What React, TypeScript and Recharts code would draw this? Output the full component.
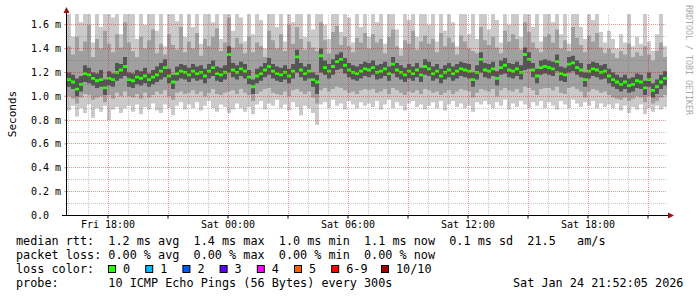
import { ComposedChart, Area, XAxis, YAxis, ReferenceLine } from "recharts";

// 30 hour smokeping view, one column every 12 minutes, starting Fri 15:57
const START_HOUR = 15.95;
const STEP_HOURS = 0.2;

// median rtt (ms)
const median = [
  1.14, 1.12, 1.06, 1.1, 1.19, 1.18, 1.15, 1.13, 1.14, 1.07, 1.15, 1.14, 1.2, 1.22, 1.25,
  1.14, 1.13, 1.16, 1.15, 1.17, 1.14, 1.16, 1.18, 1.21, 1.24, 1.17, 1.12, 1.19, 1.21, 1.2,
  1.18, 1.21, 1.19, 1.2, 1.17, 1.21, 1.24, 1.19, 1.18, 1.2, 1.35, 1.22, 1.2, 1.23, 1.21,
  1.16, 1.08, 1.17, 1.19, 1.22, 1.25, 1.21, 1.19, 1.18, 1.2, 1.17, 1.21, 1.33, 1.22, 1.19,
  1.21, 1.14, 1.12, 1.34, 1.24, 1.21, 1.25, 1.29, 1.31, 1.26, 1.22, 1.2, 1.19, 1.21, 1.23,
  1.22, 1.24, 1.2, 1.21, 1.23, 1.19, 1.27, 1.22, 1.2, 1.18, 1.21, 1.19, 1.22, 1.18, 1.25,
  1.23, 1.19, 1.21, 1.17, 1.2, 1.22, 1.19, 1.21, 1.23, 1.22, 1.21, 1.14, 1.2, 1.31, 1.22,
  1.21, 1.23, 1.15, 1.24, 1.26, 1.22, 1.21, 1.23, 1.2, 1.35, 1.31, 1.22, 1.17, 1.24, 1.25,
  1.24, 1.23, 1.29, 1.19, 1.18, 1.27, 1.28, 1.24, 1.22, 1.14, 1.21, 1.23, 1.22, 1.2, 1.21,
  1.17, 1.14, 1.12, 1.1, 1.12, 1.09, 1.1, 1.13, 1.12, 1.07, 1.14, 1.05, 1.08, 1.12, 1.15,
];

// fastest / slowest ping of each round
const pingMin = [
  0.88, 0.92, 0.83, 0.9, 0.86, 0.93, 0.82, 0.9, 0.87, 0.92, 0.8, 0.89, 0.91, 0.86, 0.9,
  0.92, 0.87, 0.93, 0.85, 0.91, 0.89, 0.94, 0.88, 0.86, 0.93, 0.9, 0.84, 0.92, 0.95, 0.89,
  0.93, 0.9, 0.95, 0.88, 0.92, 0.96, 0.9, 0.87, 0.93, 0.91, 0.86, 0.89, 0.94, 0.9, 0.87,
  0.91, 0.85, 0.93, 0.96, 0.89, 0.94, 0.92, 0.97, 0.9, 0.93, 0.88, 0.95, 0.91, 0.84, 0.92,
  0.9, 0.86, 0.76, 0.93, 0.95, 0.9, 0.97, 0.92, 0.94, 0.89, 0.96, 0.93, 0.9, 0.95, 0.92,
  0.94, 0.91, 0.96, 0.89, 0.93, 0.97, 0.9, 0.95, 0.92, 0.88, 0.94, 0.96, 0.91, 0.93, 0.89,
  0.92, 0.95, 0.9, 0.96, 0.88, 0.93, 0.96, 0.91, 0.94, 0.9, 0.92, 0.87, 0.95, 0.93, 0.96,
  0.93, 0.9, 0.95, 0.92, 0.97, 0.89, 0.94, 0.91, 0.96, 0.93, 0.9, 0.95, 0.92, 0.96, 0.9,
  0.95, 0.92, 0.89, 0.96, 0.93, 0.9, 0.97, 0.94, 0.91, 0.95, 0.92, 0.96, 0.9, 0.94, 0.91,
  0.93, 0.9, 0.94, 0.88, 0.92, 0.86, 0.91, 0.89, 0.93, 0.85, 0.9, 0.87, 0.92, 0.89, 0.91,
];
const pingMax = [
  1.75, 1.5, 1.75, 1.62, 1.75, 1.75, 1.45, 1.75, 1.58, 1.75, 1.75, 1.66, 1.75, 1.52, 1.75,
  1.75, 1.75, 1.48, 1.75, 1.6, 1.75, 1.75, 1.55, 1.75, 1.42, 1.75, 1.75, 1.63, 1.75, 1.5,
  1.75, 1.58, 1.75, 1.44, 1.75, 1.75, 1.62, 1.75, 1.48, 1.75, 1.75, 1.55, 1.75, 1.66, 1.46,
  1.75, 1.52, 1.75, 1.64, 1.4, 1.75, 1.75, 1.58, 1.75, 1.46, 1.75, 1.62, 1.75, 1.75, 1.5,
  1.75, 1.56, 1.75, 1.75, 1.6, 1.48, 1.75, 1.75, 1.54, 1.75, 1.66, 1.45, 1.75, 1.58, 1.75,
  1.5, 1.75, 1.62, 1.75, 1.44, 1.75, 1.75, 1.56, 1.4, 1.75, 1.64, 1.75, 1.5, 1.75, 1.75,
  1.6, 1.75, 1.46, 1.75, 1.55, 1.75, 1.62, 1.42, 1.75, 1.75, 1.52, 1.75, 1.48, 1.75, 1.75,
  1.56, 1.75, 1.64, 1.45, 1.75, 1.6, 1.75, 1.75, 1.5, 1.75, 1.75, 1.58, 1.75, 1.46, 1.75,
  1.75, 1.62, 1.75, 1.52, 1.75, 1.44, 1.75, 1.75, 1.58, 1.48, 1.75, 1.64, 1.75, 1.54, 1.45,
  1.55, 1.48, 1.4, 1.52, 1.45, 1.75, 1.42, 1.5, 1.44, 1.75, 1.46, 1.38, 1.52, 1.75, 1.42,
];

// 2nd / 9th ping
const midLow = [
  1.0, 0.98, 0.94, 0.99, 1.02, 1.01, 0.97, 0.99, 1.0, 0.95, 1.01, 0.98, 1.03, 1.0, 1.04,
  1.0, 0.99, 1.02, 0.98, 1.03, 0.99, 1.01, 1.04, 1.02, 1.05, 1.0, 0.97, 1.03, 1.04, 1.02,
  1.03, 1.05, 1.02, 1.04, 1.0, 1.03, 1.06, 1.02, 1.01, 1.03, 1.04, 1.05, 1.02, 1.06, 1.03,
  1.01, 0.96, 1.02, 1.04, 1.06, 1.07, 1.03, 1.02, 1.01, 1.04, 1.0, 1.05, 1.06, 1.04, 1.02,
  1.04, 0.99, 0.94, 1.05, 1.07, 1.04, 1.06, 1.08, 1.07, 1.05, 1.03, 1.04, 1.02, 1.05, 1.06,
  1.05, 1.06, 1.03, 1.04, 1.06, 1.02, 1.07, 1.05, 1.03, 1.01, 1.04, 1.03, 1.05, 1.02, 1.06,
  1.05, 1.03, 1.04, 1.01, 1.03, 1.05, 1.02, 1.04, 1.06, 1.05, 1.04, 0.99, 1.03, 1.06, 1.05,
  1.04, 1.06, 1.0, 1.05, 1.07, 1.05, 1.04, 1.06, 1.03, 1.08, 1.07, 1.05, 1.01, 1.06, 1.07,
  1.07, 1.05, 1.08, 1.03, 1.02, 1.07, 1.08, 1.06, 1.04, 0.99, 1.04, 1.06, 1.05, 1.03, 1.04,
  1.01, 0.99, 0.98, 0.97, 0.99, 0.96, 0.98, 1.0, 0.99, 0.95, 1.0, 0.94, 0.96, 0.99, 1.01,
];
const midHigh = [
  1.42, 1.35, 1.5, 1.38, 1.46, 1.6, 1.33, 1.48, 1.4, 1.55, 1.44, 1.37, 1.52, 1.41, 1.62,
  1.45, 1.38, 1.33, 1.5, 1.4, 1.47, 1.56, 1.36, 1.44, 1.35, 1.52, 1.43, 1.39, 1.58, 1.37,
  1.46, 1.4, 1.53, 1.34, 1.48, 1.42, 1.5, 1.57, 1.38, 1.45, 1.66, 1.41, 1.49, 1.44, 1.36,
  1.5, 1.37, 1.45, 1.42, 1.33, 1.55, 1.47, 1.4, 1.52, 1.38, 1.6, 1.44, 1.58, 1.48, 1.39,
  1.46, 1.41, 1.38, 1.62, 1.47, 1.36, 1.54, 1.59, 1.43, 1.5, 1.42, 1.37, 1.49, 1.45, 1.53,
  1.4, 1.52, 1.45, 1.48, 1.36, 1.5, 1.56, 1.42, 1.34, 1.47, 1.44, 1.55, 1.39, 1.46, 1.51,
  1.44, 1.48, 1.37, 1.53, 1.42, 1.49, 1.45, 1.35, 1.51, 1.46, 1.4, 1.38, 1.36, 1.58, 1.47,
  1.43, 1.5, 1.41, 1.36, 1.55, 1.46, 1.52, 1.48, 1.39, 1.62, 1.54, 1.45, 1.4, 1.37, 1.5,
  1.52, 1.45, 1.56, 1.4, 1.47, 1.38, 1.58, 1.49, 1.43, 1.37, 1.51, 1.46, 1.53, 1.41, 1.36,
  1.4, 1.36, 1.32, 1.38, 1.35, 1.44, 1.33, 1.37, 1.34, 1.42, 1.35, 1.3, 1.38, 1.45, 1.33,
];

// pings closest to the median
const coreLow = [
  1.08, 1.06, 1.0, 1.04, 1.12, 1.11, 1.09, 1.07, 1.08, 1.01, 1.09, 1.08, 1.13, 1.15, 1.17,
  1.08, 1.07, 1.1, 1.09, 1.11, 1.08, 1.1, 1.12, 1.14, 1.16, 1.11, 1.06, 1.13, 1.15, 1.14,
  1.12, 1.15, 1.13, 1.14, 1.11, 1.15, 1.17, 1.13, 1.12, 1.14, 1.2, 1.16, 1.14, 1.17, 1.15,
  1.1, 1.02, 1.11, 1.13, 1.16, 1.18, 1.15, 1.13, 1.12, 1.14, 1.11, 1.15, 1.2, 1.16, 1.13,
  1.15, 1.08, 1.02, 1.2, 1.18, 1.15, 1.18, 1.22, 1.23, 1.19, 1.16, 1.14, 1.13, 1.15, 1.17,
  1.16, 1.18, 1.14, 1.15, 1.17, 1.13, 1.19, 1.16, 1.14, 1.12, 1.15, 1.13, 1.16, 1.12, 1.18,
  1.17, 1.13, 1.15, 1.11, 1.14, 1.16, 1.13, 1.15, 1.17, 1.16, 1.15, 1.08, 1.14, 1.2, 1.16,
  1.15, 1.17, 1.09, 1.18, 1.19, 1.16, 1.15, 1.17, 1.14, 1.22, 1.23, 1.16, 1.11, 1.18, 1.19,
  1.18, 1.17, 1.21, 1.13, 1.12, 1.2, 1.21, 1.18, 1.16, 1.08, 1.15, 1.17, 1.16, 1.14, 1.15,
  1.11, 1.08, 1.06, 1.04, 1.06, 1.03, 1.04, 1.07, 1.06, 1.01, 1.08, 0.99, 1.02, 1.06, 1.09,
];
const coreHigh = [
  1.2, 1.18, 1.15, 1.17, 1.26, 1.24, 1.2, 1.19, 1.22, 1.14, 1.21, 1.19, 1.28, 1.27, 1.33,
  1.2, 1.19, 1.22, 1.21, 1.24, 1.19, 1.22, 1.25, 1.28, 1.31, 1.23, 1.18, 1.25, 1.27, 1.26,
  1.24, 1.27, 1.25, 1.26, 1.23, 1.27, 1.3, 1.25, 1.24, 1.26, 1.42, 1.28, 1.26, 1.29, 1.27,
  1.22, 1.14, 1.23, 1.25, 1.28, 1.32, 1.27, 1.25, 1.24, 1.26, 1.23, 1.27, 1.39, 1.28, 1.25,
  1.27, 1.2, 1.18, 1.4, 1.3, 1.27, 1.31, 1.35, 1.37, 1.32, 1.28, 1.26, 1.25, 1.27, 1.29,
  1.28, 1.3, 1.26, 1.27, 1.29, 1.25, 1.33, 1.28, 1.26, 1.24, 1.27, 1.25, 1.28, 1.24, 1.31,
  1.29, 1.25, 1.27, 1.23, 1.26, 1.28, 1.25, 1.27, 1.29, 1.28, 1.27, 1.2, 1.26, 1.37, 1.28,
  1.27, 1.29, 1.21, 1.3, 1.32, 1.28, 1.27, 1.29, 1.26, 1.41, 1.37, 1.28, 1.23, 1.3, 1.31,
  1.3, 1.29, 1.35, 1.25, 1.24, 1.33, 1.34, 1.3, 1.28, 1.2, 1.27, 1.29, 1.28, 1.26, 1.27,
  1.23, 1.2, 1.18, 1.16, 1.18, 1.15, 1.16, 1.19, 1.18, 1.13, 1.2, 1.11, 1.14, 1.18, 1.21,
];

const timeTicks = [18, 21, 24, 27, 30, 33, 36, 39, 42, 45];
const timeLabels: Record<number, string> = {
  18: "Fri 18:00",
  24: "Sat 00:00",
  30: "Sat 06:00",
  36: "Sat 12:00",
  42: "Sat 18:00",
};
const yTicks = [0, 0.2, 0.4, 0.6, 0.8, 1.0, 1.2, 1.4, 1.6];
const hourLines = [16, 17, 18, 19, 20, 21, 22, 23, 24, 25, 26, 27, 28, 29, 30, 31, 32, 33, 34, 35, 36, 37, 38, 39, 40, 41, 42, 43, 44, 45];
const valueLines = [0.1, 0.2, 0.3, 0.4, 0.5, 0.6, 0.7, 0.8, 0.9, 1.0, 1.1, 1.2, 1.3, 1.4, 1.5, 1.6];

const legendLines = [
  "median rtt:  1.2 ms avg  1.4 ms max  1.0 ms min  1.1 ms now  0.1 ms sd  21.5   am/s",
  "packet loss: 0.00 % avg  0.00 % max  0.00 % min  0.00 % now",
  "loss color:",
  "probe:       10 ICMP Echo Pings (56 Bytes) every 300s",
];
const stamp = "Sat Jan 24 21:52:05 2026";

const lossColors = [
  { label: "0", color: "#26ff00" },
  { label: "1", color: "#00b8ff" },
  { label: "2", color: "#0059ff" },
  { label: "3", color: "#5e00ff" },
  { label: "4", color: "#ff00ff" },
  { label: "5", color: "#ff5e00" },
  { label: "6-9", color: "#ff0000" },
  { label: "10/10", color: "#a00000" },
];

const MEDIAN_HALF = 0.012; // thickness of the median marker
const MONO = "'DejaVu Sans Mono', monospace";

// svg collapses runs of spaces, so keep them as nbsp
const keepSpaces = (s: string) => s.replace(/ /g, "\u00a0");

const rows = median.map((m, i) => ({
  t: START_HOUR + STEP_HOURS * i,
  outer: [pingMin[i], pingMax[i]],
  mid: [midLow[i], midHigh[i]],
  core: [coreLow[i], coreHigh[i]],
  med: [m - MEDIAN_HALF, m + MEDIAN_HALF],
}));
// close the last step at the right edge
rows.push({ ...rows[rows.length - 1], t: START_HOUR + STEP_HOURS * median.length });

function TimeTick(props: any) {
  const { x, y, payload } = props;
  const label = timeLabels[payload.value];
  if (!label) return <g />;
  return (
    <text x={x} y={y + 6} textAnchor="middle" dominantBaseline="central" fontFamily={MONO} fontSize={10} fill="#000">
      {label}
    </text>
  );
}

function ValueTick(props: any) {
  const { x, y, payload } = props;
  const v = payload.value as number;
  const label = v === 0 ? "0.0" : v.toFixed(1) + " m";
  return (
    <text x={x - 33} y={y} textAnchor="start" dominantBaseline="central" fontFamily={MONO} fontSize={10} fill="#000">
      {keepSpaces(label)}
    </text>
  );
}

export default function App() {
  const majorGrid = "rgba(220,0,0,0.42)";
  const minorGrid = "rgba(110,110,110,0.4)";
  return (
    <div style={{ position: "absolute", left: 0, top: 0, width: 697, height: 297, background: "#fff" }}>
      <ComposedChart width={697} height={297} data={rows} margin={{ top: 14, right: 30, bottom: 51.5, left: 0 }}>
        <XAxis
          dataKey="t"
          type="number"
          domain={[START_HOUR, START_HOUR + 30]}
          ticks={timeTicks}
          height={30}
          axisLine={false}
          tickSize={3}
          tickMargin={0}
          tickLine={{ stroke: "#000" }}
          tick={<TimeTick />}
          interval={0}
        />
        <YAxis
          type="number"
          domain={[0, 1.69]}
          allowDataOverflow
          ticks={yTicks}
          width={67}
          axisLine={false}
          tickSize={3}
          tickMargin={0}
          tickLine={{ stroke: majorGrid }}
          tick={<ValueTick />}
          interval={0}
        />
        <Area dataKey="outer" type="stepAfter" stroke="none" fill="#cacaca" fillOpacity={1} isAnimationActive={false} dot={false} activeDot={false} />
        <Area dataKey="mid" type="stepAfter" stroke="none" fill="#a0a0a0" fillOpacity={1} isAnimationActive={false} dot={false} activeDot={false} />
        <Area dataKey="core" type="stepAfter" stroke="none" fill="#555555" fillOpacity={1} isAnimationActive={false} dot={false} activeDot={false} />
        <Area dataKey="med" type="stepAfter" stroke="none" fill="#26ff00" fillOpacity={1} isAnimationActive={false} dot={false} activeDot={false} />
        {valueLines.map((v) => (
          <ReferenceLine
            key={"y" + v}
            y={v}
            stroke={Math.round(v * 10) % 2 === 0 ? majorGrid : minorGrid}
            strokeDasharray="1 1"
            shapeRendering="crispEdges"
          />
        ))}
        {hourLines.map((h) => (
          <ReferenceLine
            key={"x" + h}
            x={h}
            stroke={h % 3 === 0 ? majorGrid : minorGrid}
            strokeDasharray="1 1"
            shapeRendering="crispEdges"
          />
        ))}
      </ComposedChart>

      <svg width={697} height={297} style={{ position: "absolute", left: 0, top: 0, pointerEvents: "none" }}>
        {/* axes and arrows */}
        <line x1={62} y1={215.5} x2={669} y2={215.5} stroke="#000" />
        <line x1={66.5} y1={216} x2={66.5} y2={11} stroke="#000" />
        <polygon points="668,212.5 674,215.5 668,218.5" fill="#991111" />
        <polygon points="63.5,13 66.5,7 69.5,13" fill="#991111" />

        <text
          transform="translate(12,114) rotate(-90)"
          textAnchor="middle"
          dominantBaseline="central"
          fontFamily={MONO}
          fontSize={11}
          fill="#000"
        >
          Seconds
        </text>
        <text
          transform="translate(689,60) rotate(90)"
          textAnchor="middle"
          dominantBaseline="central"
          fontFamily={MONO}
          fontSize={8.3}
          fill="#aaaaaa"
        >
          {keepSpaces("RRDTOOL / TOBI OETIKER")}
        </text>

        <g fontFamily={MONO} fontSize={11.8} fill="#000">
          {legendLines.map((line, i) => (
            <text key={i} x={16} y={245 + i * 14}>
              {keepSpaces(line)}
            </text>
          ))}
          <text x={513} y={287}>
            {keepSpaces(stamp)}
          </text>
          {lossColors.map((c, i) => {
            const x = i < 7 ? 108.5 + i * 37.2 : 381.5;
            return (
              <g key={c.label}>
                <rect x={x} y={265.5} width={7} height={7} fill={c.color} stroke="#000" />
                <text x={x + 14.5} y={273}>
                  {c.label}
                </text>
              </g>
            );
          })}
        </g>
      </svg>
    </div>
  );
}
